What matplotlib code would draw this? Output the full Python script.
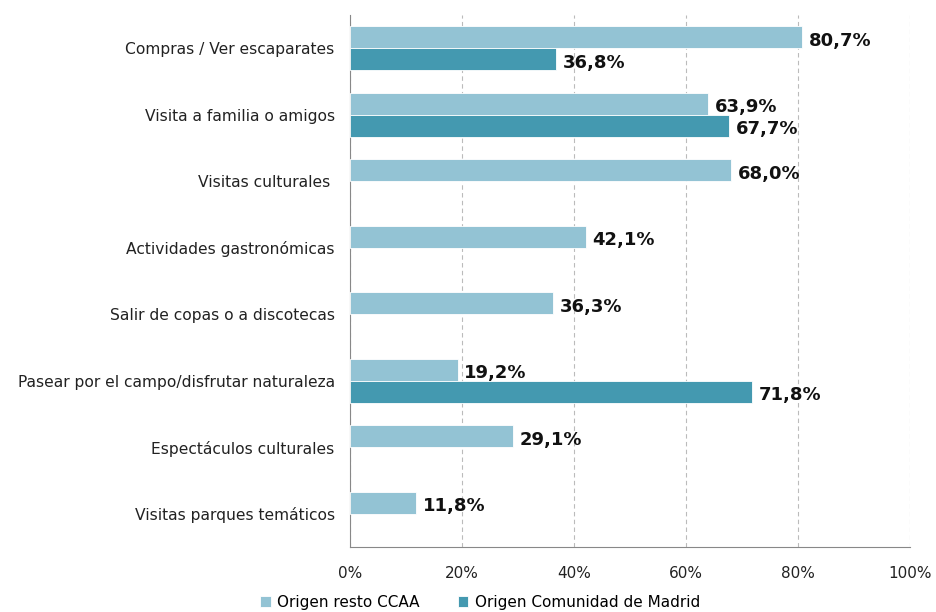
import matplotlib
matplotlib.use("Agg")
import matplotlib.pyplot as plt
import numpy as np

categories = [
    "Compras / Ver escaparates",
    "Visita a familia o amigos",
    "Visitas culturales ",
    "Actividades gastronómicas",
    "Salir de copas o a discotecas",
    "Pasear por el campo/disfrutar naturaleza",
    "Espectáculos culturales",
    "Visitas parques temáticos",
]
resto_ccaa = [80.7, 63.9, 68.0, 42.1, 36.3, 19.2, 29.1, 11.8]
com_madrid = [36.8, 67.7, None, None, None, 71.8, None, None]
tick_labels = ["0%", "20%", "40%", "60%", "80%", "100%"]

c_light = "#93C3D4"
c_dark = "#4499B0"

fig = plt.figure(figsize=(9.36, 6.12), dpi=100)
ax = fig.add_axes([350/936, 1-547/612, 560/936, 532/612])

y = np.arange(len(categories))
h = 0.33

def fmt(v):
    return f"{v:.1f}%".replace(".", ",")

ax.barh(y - h/2, resto_ccaa, height=h, color=c_light, edgecolor="white", linewidth=0.6,
        label="Origen resto CCAA", zorder=3)
yd = [yy + h/2 for yy, v in zip(y, com_madrid) if v is not None]
vd = [v for v in com_madrid if v is not None]
ax.barh(yd, vd, height=h, color=c_dark, edgecolor="white", linewidth=0.6,
        label="Origen Comunidad de Madrid", zorder=3)

for yy, v in zip(y, resto_ccaa):
    ax.text(v + 1.2, yy - h/2 + 0.05, fmt(v), va="center", ha="left",
            fontsize=13, fontweight="bold", color="#111111", zorder=4)
for yy, v in zip(yd, vd):
    ax.text(v + 1.2, yy + 0.05, fmt(v), va="center", ha="left",
            fontsize=13, fontweight="bold", color="#111111", zorder=4)

ax.set_xlim(0, 100)
ax.set_ylim(len(categories) - 0.5, -0.5)
ax.set_xticks([0, 20, 40, 60, 80, 100])
ax.set_xticklabels(tick_labels, fontsize=11, color="#222222")
ax.set_yticks(y)
ax.set_yticklabels(categories, fontsize=11.2, color="#222222")
ax.tick_params(axis="y", length=0, pad=11)
ax.tick_params(axis="x", length=0, pad=14)

ax.xaxis.grid(True, linestyle=(0, (4, 3)), color="#BBBBBB", linewidth=0.8, zorder=0)
ax.set_axisbelow(True)
for s in ["top", "right"]:
    ax.spines[s].set_visible(False)
ax.spines["left"].set_color("#888888")
ax.spines["bottom"].set_color("#888888")

leg = fig.legend(loc="lower center", bbox_to_anchor=(480/936, -0.012), ncol=2, frameon=False,
                 fontsize=11, handlelength=0.7, handleheight=0.7, handletextpad=0.4,
                 columnspacing=2.5, borderpad=0.1)

fig.savefig("out.png", dpi=100)
